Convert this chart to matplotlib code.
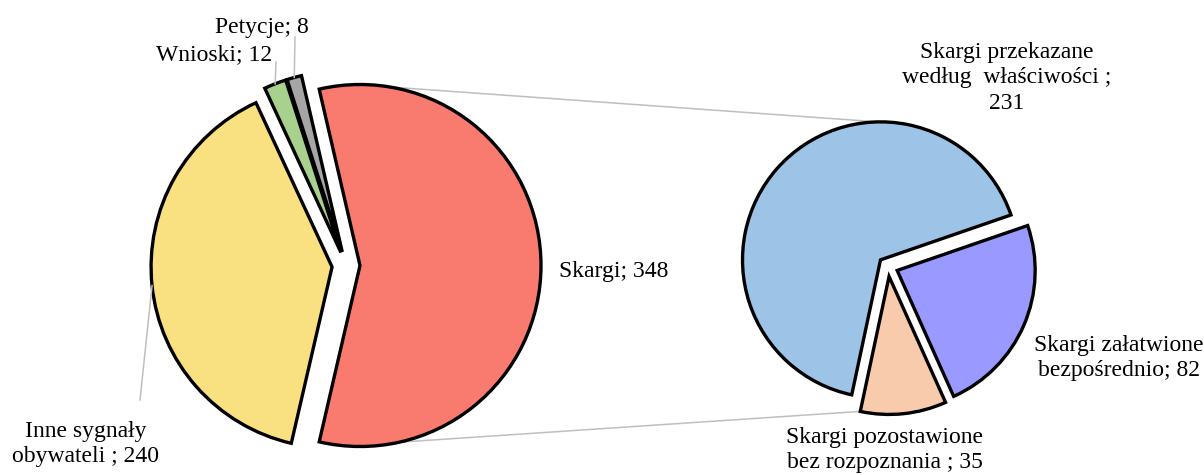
import numpy as np
import matplotlib
matplotlib.use('Agg')
import matplotlib.pyplot as plt

plt.rcParams['font.family'] = ['Liberation Serif', 'DejaVu Serif']

# main pie (clockwise from Skargi)
main_labels = ['Skargi', 'Inne sygnały\nobywateli ', 'Wnioski', 'Petycje']
main_values = [348, 240, 12, 8]
main_colors = ['#F97A6E', '#F9E080', '#A9D18E', '#A6A6A6']

# breakdown of Skargi (counter-clockwise)
sub_labels = ['Skargi przekazane\nwedług  właściwości ;\n', 'Skargi pozostawione\nbez rozpoznania ',
              'Skargi załatwione\nbezpośrednio']
sub_values = [231, 35, 82]
sub_colors = ['#9DC3E6', '#F8CBAD', '#9999FF']

W, H = 1204, 475
fig = plt.figure(figsize=(W / 100, H / 100), dpi=100)
ax = fig.add_axes([0, 0, 1, 1])

edge = dict(edgecolor='black', linewidth=2.4, joinstyle='miter')

# left pie, all slices pulled out a bit
start1 = 360 * main_values[0] / sum(main_values) / 2
w1, _ = ax.pie(main_values, colors=main_colors, center=(346, 209.5), radius=181,
               startangle=start1, counterclock=False, explode=[14] * 4,
               wedgeprops=edge, frame=True)

# right pie
w2, _ = ax.pie(sub_values, colors=sub_colors, center=(888, 208.5), radius=138,
               startangle=19, counterclock=True, explode=[10] * 3,
               wedgeprops=edge, frame=True)

def on_arc(w, ang):
    a = np.deg2rad(ang)
    return w.center[0] + w.r * np.cos(a), w.center[1] + w.r * np.sin(a)

def mid(w):
    return (w.theta1 + w.theta2) / 2

grey = '#BFBFBF'
# connectors between the pies
p1 = on_arc(w1[0], 80.5)
p2 = on_arc(w2[0], 91)
ax.plot([p1[0], p2[0]], [p1[1], p2[1]], color=grey, lw=1.1, zorder=0)
p1 = on_arc(w1[0], -77.5)
p2 = on_arc(w2[1], w2[1].theta1)
ax.plot([p1[0], p2[0]], [p1[1], p2[1]], color=grey, lw=1.1, zorder=0)

fs = 17
ls = 1.3
# labels of the left pie
lab_pos = [(614, 204), (86, 31), (214, 420), (262, 448)]
leader_end = [None, (140, 75), (276, 413), (295, 438)]
for i in range(4):
    ax.text(lab_pos[i][0], lab_pos[i][1], f'{main_labels[i]}; {main_values[i]}',
            ha='center', va='center', fontsize=fs, linespacing=ls)
    if leader_end[i] is not None:
        s = on_arc(w1[i], mid(w1[i]))
        ax.plot([s[0], leader_end[i][0]], [s[1], leader_end[i][1]], color=grey, lw=1.1)

# labels of the right pie
sub_pos = [(1007, 397), (885, 25), (1119, 117)]
for i in range(3):
    sep = '' if sub_labels[i].endswith('\n') else '; '
    ax.text(sub_pos[i][0], sub_pos[i][1], f'{sub_labels[i]}{sep}{sub_values[i]}',
            ha='center', va='center', fontsize=fs, linespacing=ls)

ax.set_xlim(0, W)
ax.set_ylim(0, H)
ax.set_aspect('auto')
ax.axis('off')

fig.savefig('out.png', dpi=100)
